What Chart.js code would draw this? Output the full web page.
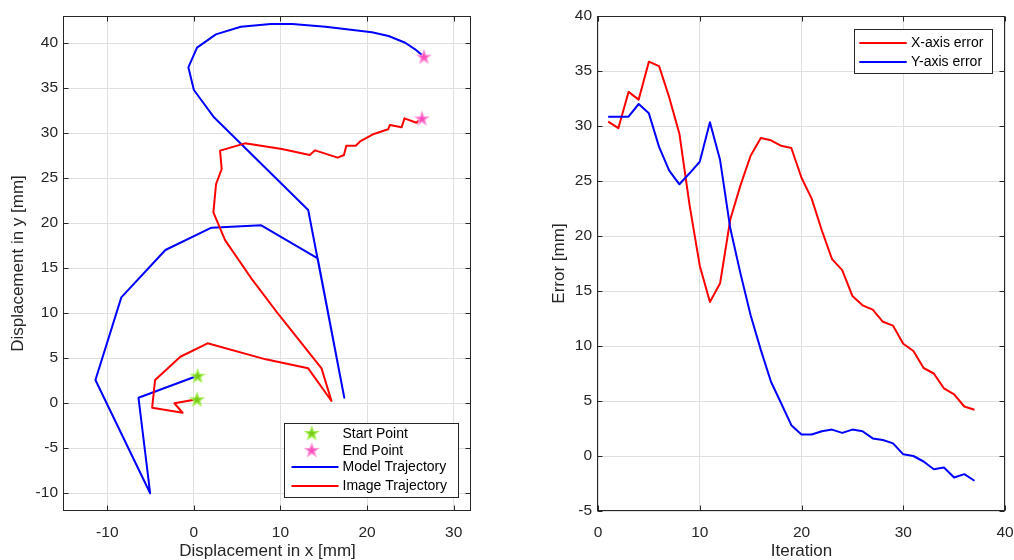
<!DOCTYPE html>
<html><head><meta charset="utf-8">
<script src="https://cdn.jsdelivr.net/npm/chart.js@4/dist/chart.umd.min.js"></script>
<style>
html,body{margin:0;padding:0;background:#fff;width:1014px;height:560px;overflow:hidden}
#l{position:absolute;left:0;top:0}
#r{position:absolute;left:507px;top:0}
</style></head>
<body>
<canvas id="l" width="507" height="560"></canvas>
<canvas id="r" width="507" height="560"></canvas>
<script>
// ---------- Left plot data ----------
const modelX = [0.43, -6.4, -5.05, -11.37, -8.38, -3.29, 2.03, 7.78, 14.3, 17.37, 13.2, 2.26, 0, -0.64, 0.36, 2.54, 5.42, 8.87, 11.36, 15.2, 20.56, 22.48, 24.4, 25.55, 26.56];
const modelY = [3.03, 0.59, -10.03, 2.56, 11.74, 17.0, 19.48, 19.74, 16.07, 0.59, 21.44, 31.81, 34.78, 37.3, 39.48, 40.96, 41.81, 42.1, 42.1, 41.81, 41.19, 40.78, 40.03, 39.3, 38.48];
const imageX = [0.36, -2.25, -1.3, -4.82, -4.48, -1.56, 1.58, 8.29, 13.2, 15.89, 14.74, 9.83, 6.76, 3.6, 2.25, 2.56, 3.21, 3.02, 5.9, 10.16, 13.38, 13.99, 16.6, 17.33, 17.6, 18.68, 19.25, 20.78, 22.43, 22.63, 23.98, 24.32, 25.7, 26.05, 26.34];
const imageY = [0.41, -0.03, -1.08, -0.52, 2.56, 5.14, 6.63, 4.85, 3.85, 0.22, 3.85, 9.78, 13.67, 18.1, 21.19, 24.33, 26.0, 28.04, 28.85, 28.22, 27.56, 28.07, 27.26, 27.56, 28.59, 28.59, 29.11, 29.89, 30.41, 30.89, 30.63, 31.63, 31.14, 31.44, 31.63];
const startX = [0.43, 0.36];
const startY = [3.03, 0.41];
const endX = [26.56, 26.34];
const endY = [38.48, 31.63];
const leftXTicks = [-10, 0, 10, 20, 30];
const leftYTicks = [-10, -5, 0, 5, 10, 15, 20, 25, 30, 35, 40];
const leftLabels = ['Start Point', 'End Point', 'Model Trajectory', 'Image Trajectory'];

// ---------- Right plot data ----------
const iterations = [1,2,3,4,5,6,7,8,9,10,11,12,13,14,15,16,17,18,19,20,21,22,23,24,25,26,27,28,29,30,31,32,33,34,35,36,37];
const xError = [30.4, 29.8, 33.1, 32.4, 35.85, 35.45, 32.6, 29.3, 22.8, 17.3, 14.0, 15.7, 21.5, 24.6, 27.3, 28.9, 28.7, 28.2, 28.0, 25.3, 23.4, 20.5, 17.9, 16.9, 14.55, 13.7, 13.3, 12.2, 11.85, 10.2, 9.55, 8.0, 7.5, 6.15, 5.6, 4.5, 4.2];
const yError = [30.85, 30.85, 30.85, 32.0, 31.15, 28.1, 25.95, 24.7, 25.7, 26.75, 30.35, 26.9, 20.7, 16.6, 12.8, 9.65, 6.75, 4.8, 2.8, 1.95, 1.95, 2.25, 2.4, 2.1, 2.4, 2.25, 1.6, 1.45, 1.15, 0.15, 0.0, -0.5, -1.2, -1.05, -1.95, -1.65, -2.25];
const rightXTicks = [0, 10, 20, 30, 40];
const rightYTicks = [-5, 0, 5, 10, 15, 20, 25, 30, 35, 40];
const rightLabels = ['X-axis error', 'Y-axis error'];

// ---------- styling ----------
const FONT = "'Liberation Sans', Arial, Helvetica, sans-serif";
const TXT = '#262626';
const GRID = '#dfdfdf';
const TICK_FONT = {family: FONT, size: 15.5};
const TITLE_FONT = {family: FONT, size: 17, lineHeight: 1};
const LEG_FONT = '14px ' + FONT;

function makeStar(fill, stroke) {
  const c = document.createElement('canvas');
  c.width = 16; c.height = 16;
  const g = c.getContext('2d');
  g.beginPath();
  for (let i = 0; i < 10; i++) {
    const r = i % 2 ? 2.8 : 6.6;
    const a = -Math.PI / 2 + i * Math.PI / 5;
    const x = 8 + r * Math.cos(a), y = 8.6 + r * Math.sin(a);
    if (i) g.lineTo(x, y); else g.moveTo(x, y);
  }
  g.closePath();
  g.fillStyle = fill; g.fill();
  g.strokeStyle = stroke; g.lineWidth = 1.3; g.stroke();
  return c;
}
const greenStar = makeStar('#78cc1a', '#a6ee55');
const pinkStar = makeStar('#ff4fbd', '#ff99db');

const zip = (xs, ys) => xs.map((x, i) => ({x, y: ys[i]}));

const axesBox = {
  id: 'axesBox',
  beforeDatasetsDraw(chart) {
    const {ctx, chartArea: a, scales} = chart;
    ctx.save();
    ctx.strokeStyle = TXT; ctx.lineWidth = 1;
    const L = Math.round(a.left) - 0.5, R = Math.round(a.right) - 0.5;
    const T = Math.round(a.top) + 0.5, B = Math.round(a.bottom) - 0.5;
    ctx.strokeRect(L, T, R - L, B - T);
    ctx.beginPath();
    scales.x.ticks.forEach(t => {
      const p = Math.round(scales.x.getPixelForValue(t.value)) + 0.5;
      ctx.moveTo(p, B); ctx.lineTo(p, B - 5);
      ctx.moveTo(p, T); ctx.lineTo(p, T + 5);
    });
    scales.y.ticks.forEach(t => {
      const p = Math.round(scales.y.getPixelForValue(t.value)) + 0.5;
      ctx.moveTo(L, p); ctx.lineTo(L + 5, p);
      ctx.moveTo(R, p); ctx.lineTo(R - 5, p);
    });
    ctx.stroke();
    ctx.restore();
  }
};

function legendPlugin(box, entries) {
  return {
    id: 'mlegend',
    afterDraw(chart) {
      const ctx = chart.ctx;
      ctx.save();
      ctx.fillStyle = '#fff';
      ctx.fillRect(box.x, box.y, box.w, box.h);
      ctx.strokeStyle = TXT; ctx.lineWidth = 1;
      ctx.strokeRect(box.x + 0.5, box.y + 0.5, box.w, box.h);
      entries.forEach(e => {
        if (e.img) {
          ctx.drawImage(e.img, e.cx - 8, e.y - 8.6);
        } else {
          ctx.strokeStyle = e.color; ctx.lineWidth = 2;
          ctx.beginPath(); ctx.moveTo(e.x1, e.y); ctx.lineTo(e.x2, e.y); ctx.stroke();
        }
        ctx.fillStyle = '#000';
        ctx.font = LEG_FONT;
        ctx.textBaseline = 'middle';
        ctx.textAlign = 'left';
        ctx.fillText(e.label, e.tx, e.y + 0.5);
      });
      ctx.restore();
    }
  };
}

function axisOpts(min, max, ticksArr, title, isX, fitSize, titlePad) {
  return {
    type: 'linear', min, max,
    afterBuildTicks: s => { s.ticks = ticksArr.map(v => ({value: v})); },
    afterFit: s => {
      if (isX) { s.height = fitSize; s.paddingLeft = 0; s.paddingRight = 0; }
      else { s.width = fitSize; s.paddingTop = 0; s.paddingBottom = 0; }
    },
    grid: {color: GRID, lineWidth: 1, drawTicks: false},
    border: {display: false},
    ticks: {color: TXT, font: TICK_FONT, padding: isX ? 12 : 6, autoSkip: false, maxRotation: 0,
            callback: v => String(v)},
    title: {display: true, text: title, color: TXT, font: TITLE_FONT, padding: titlePad}
  };
}

// ---------- Left chart ----------
new Chart(document.getElementById('l'), {
  type: 'scatter',
  data: {
    datasets: [
      {label: leftLabels[0], data: zip(startX, startY), pointStyle: greenStar, showLine: false},
      {label: leftLabels[1], data: zip(endX, endY), pointStyle: pinkStar, showLine: false},
      {label: leftLabels[3], data: zip(imageX, imageY), showLine: true, borderColor: '#ff0000', borderWidth: 2, pointRadius: 0, borderJoinStyle: 'round', borderCapStyle: 'round'},
      {label: leftLabels[2], data: zip(modelX, modelY), showLine: true, borderColor: '#0000ff', borderWidth: 2, pointRadius: 0, borderJoinStyle: 'round', borderCapStyle: 'round'}
    ]
  },
  options: {
    responsive: false, animation: false, devicePixelRatio: 1,
    layout: {padding: {top: 16, right: 36, left: 0, bottom: 0}},
    plugins: {legend: {display: false}, tooltip: {enabled: false}},
    scales: {
      x: axisOpts(-15, 32, leftXTicks, 'Displacement in x [mm]', true, 49, {top: 0, bottom: 0}),
      y: axisOpts(-12, 43, leftYTicks, 'Displacement in y [mm]', false, 64, {top: 10, bottom: 0})
    }
  },
  plugins: [axesBox, legendPlugin({x: 284, y: 423, w: 174, h: 74}, [
    {img: greenStar, cx: 311.7, y: 433.5, tx: 342.5, label: leftLabels[0]},
    {img: pinkStar, cx: 311.7, y: 450.5, tx: 342.5, label: leftLabels[1]},
    {color: '#0000ff', x1: 291.5, x2: 338.5, y: 467, tx: 342.5, label: leftLabels[2]},
    {color: '#ff0000', x1: 291.5, x2: 338.5, y: 486, tx: 342.5, label: leftLabels[3]}
  ])]
});

// ---------- Right chart ----------
new Chart(document.getElementById('r'), {
  type: 'scatter',
  data: {
    datasets: [
      {label: rightLabels[1], data: zip(iterations, yError), showLine: true, borderColor: '#0000ff', borderWidth: 2, pointRadius: 0, borderJoinStyle: 'round'},
      {label: rightLabels[0], data: zip(iterations, xError), showLine: true, borderColor: '#ff0000', borderWidth: 2, pointRadius: 0, borderJoinStyle: 'round'}
    ]
  },
  options: {
    responsive: false, animation: false, devicePixelRatio: 1,
    layout: {padding: {top: 16, right: 9, left: 0, bottom: 0}},
    plugins: {legend: {display: false}, tooltip: {enabled: false}},
    scales: {
      x: axisOpts(0, 40, rightXTicks, 'Iteration', true, 49, {top: 0, bottom: 0}),
      y: axisOpts(-5, 40, rightYTicks, 'Error [mm]', false, 91, {top: 44, bottom: 0})
    }
  },
  plugins: [axesBox, legendPlugin({x: 347, y: 29, w: 138, h: 44}, [
    {color: '#ff0000', x1: 352.3, x2: 399.7, y: 43, tx: 404, label: rightLabels[0]},
    {color: '#0000ff', x1: 352.3, x2: 399.7, y: 62, tx: 404, label: rightLabels[1]}
  ])]
});
</script>
</body></html>
